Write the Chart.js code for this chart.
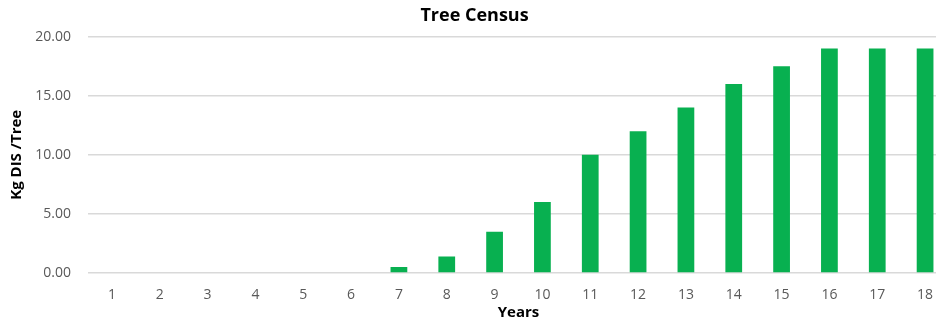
<!DOCTYPE html>
<html>
<head>
<meta charset="utf-8">
<script src="https://cdn.jsdelivr.net/npm/chart.js@4/dist/chart.umd.min.js"></script>
<style>
  html, body { margin: 0; padding: 0; overflow: hidden; background: #fff; }
  #wrap { width: 964px; height: 325px; position: relative; }
</style>
</head>
<body>
<div id="wrap"><canvas id="treeChart"></canvas></div>
<script>
const years = ['1', '2', '3', '4', '5', '6', '7', '8', '9', '10', '11', '12', '13', '14', '15', '16', '17', '18'];
const kgPerTree = [0, 0, 0, 0, 0, 0, 0.5, 1.4, 3.5, 6, 10, 12, 14, 16, 17.5, 19, 19, 19];
const yTicks = [0, 5, 10, 15, 20];

const treeChart = document.getElementById('treeChart').getContext('2d');
const fontFamily = "'Open Sans', 'Liberation Sans', sans-serif";

new Chart(treeChart, {
  type: 'bar',
  data: {
    labels: years,
    datasets: [{
      label: 'Kg DIS /Tree',
      data: kgPerTree,
      backgroundColor: '#08b050',
      borderWidth: 0,
      barPercentage: 0.7,
      categoryPercentage: 0.5
    }]
  },
  options: {
    responsive: true,
    maintainAspectRatio: false,
    animation: false,
    layout: {
      padding: { left: 0, right: 15, top: 0, bottom: 0 }
    },
    plugins: {
      legend: { display: false },
      tooltip: { enabled: false },
      title: {
        display: true,
        text: 'Tree Census',
        color: '#000',
        font: { family: fontFamily, size: 18, weight: 'bold' },
        padding: { top: 5, bottom: 10 }
      }
    },
    scales: {
      y: {
        min: 0,
        max: 20,
        afterBuildTicks: function (scale) {
          scale.ticks = yTicks.map(v => ({ value: v }));
        },
        afterFit: function (scale) {
          scale.width = 88;
        },
        ticks: {
          color: '#595959',
          font: { family: fontFamily, size: 14 },
          padding: 17,
          callback: v => Number(v).toFixed(2)
        },
        grid: {
          color: '#d9d9d9',
          lineWidth: 1.5,
          drawTicks: false
        },
        border: { display: false },
        title: {
          display: true,
          text: 'Kg DIS /Tree',
          color: '#000',
          font: { family: fontFamily, size: 15, weight: 'bold' },
          padding: { top: 8, bottom: 0 }
        }
      },
      x: {
        afterFit: function (scale) {
          scale.height = 52;
        },
        ticks: {
          color: '#595959',
          font: { family: fontFamily, size: 14 },
          padding: 14,
          maxRotation: 0
        },
        grid: { display: false, drawTicks: false },
        border: { display: false },
        title: {
          display: true,
          text: 'Years',
          color: '#000',
          font: { family: fontFamily, size: 15, weight: 'bold' },
          padding: { top: 0, bottom: 3 }
        }
      }
    }
  }
});
</script>
</body>
</html>
